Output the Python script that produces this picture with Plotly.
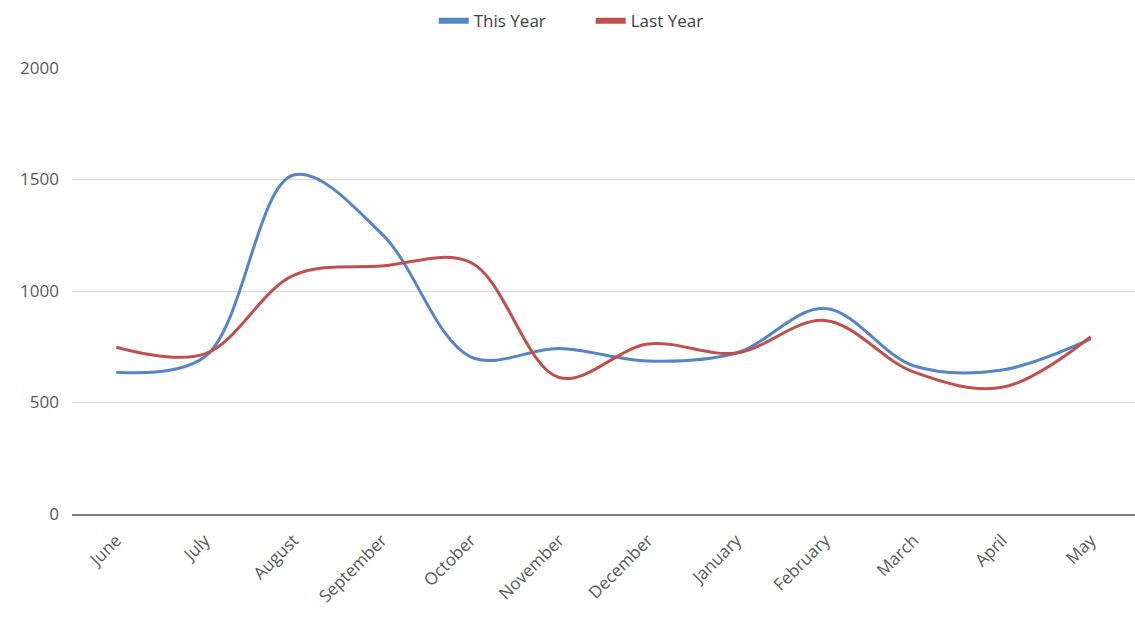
import plotly.graph_objects as go

months = ["June", "July", "August", "September", "October", "November",
          "December", "January", "February", "March", "April", "May"]
this_year = [636, 705, 1520, 1255, 705, 742, 686, 722, 922, 665, 646, 785]
last_year = [748, 718, 1070, 1112, 1128, 612, 762, 722, 868, 637, 568, 795]

blue = "#5585c6"
red = "#c0504d"

fig = go.Figure()
fig.add_trace(go.Scatter(x=months, y=this_year, name="This Year", mode="lines",
                         legendgroup="a", showlegend=False,
                         line=dict(color=blue, width=3, shape="spline", smoothing=1.0)))
fig.add_trace(go.Scatter(x=months, y=last_year, name="Last Year", mode="lines",
                         legendgroup="b", showlegend=False,
                         line=dict(color=red, width=3, shape="spline", smoothing=1.0)))
# legend entries with thicker swatches
fig.add_trace(go.Scatter(x=[None], y=[None], name="This Year", mode="lines",
                         legendgroup="a", line=dict(color=blue, width=6)))
fig.add_trace(go.Scatter(x=[None], y=[None], name="Last Year", mode="lines",
                         legendgroup="b", line=dict(color=red, width=6)))

fig.update_layout(
    width=1135, height=618,
    margin=dict(l=72, r=0, t=68, b=104),
    paper_bgcolor="white", plot_bgcolor="white",
    font=dict(family="Open Sans", size=17, color="#595959"),
    legend=dict(orientation="h", x=0.488, xanchor="center", y=0.995, yref="container",
                yanchor="top", font=dict(size=17, color="#404040"), itemwidth=30,
                entrywidth=112, entrywidthmode="pixels", tracegroupgap=0),
    showlegend=True,
)
fig.update_xaxes(type="category", range=[-0.5, 11.5], tickangle=-45, showgrid=False, showline=True,
                 linecolor="#7f7f7f", linewidth=1.5, ticks="", ticklabelstandoff=8,
                 tickfont=dict(size=17, color="#595959"))
fig.update_yaxes(range=[0, 2000], tickvals=[0, 500, 1000, 1500, 2000], showgrid=True,
                 gridcolor="#d9d9d9", gridwidth=1, zeroline=False, showline=False,
                 ticks="", ticklabelstandoff=12, tickfont=dict(size=17, color="#595959"))

fig.write_html("out.html")
